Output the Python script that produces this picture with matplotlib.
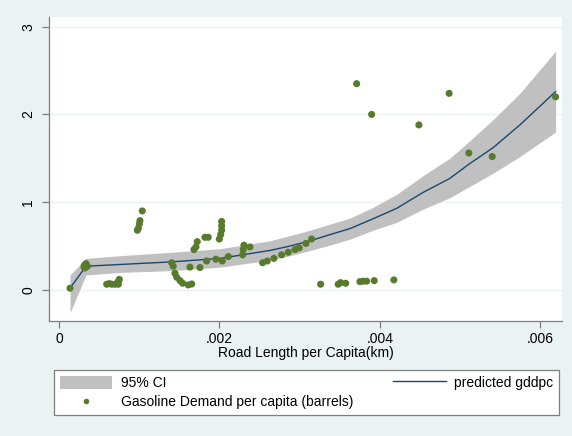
import matplotlib
matplotlib.use("Agg")
import matplotlib.pyplot as plt
from matplotlib.patches import Patch
from matplotlib.lines import Line2D

plt.rcParams['font.family'] = ['Liberation Sans', 'DejaVu Sans']

# observed data: road length per capita (km) vs gasoline demand per capita (barrels)
road_km = [0.000137,
           0.000315, 0.000336, 0.000353, 0.000324, 0.000312,
           0.000594, 0.000627, 0.000657, 0.000698, 0.000739, 0.000739, 0.000751,
           0.001038, 0.001009, 0.001001, 0.000988, 0.000976,
           0.001404, 0.001424, 0.001445, 0.001467, 0.001508, 0.001541, 0.001611, 0.001654,
           0.001632, 0.001757, 0.001840, 0.001956, 0.002035, 0.002110,
           0.001682, 0.001707, 0.001723, 0.001819, 0.001860,
           0.001998, 0.002015, 0.002027, 0.002027, 0.002027,
           0.002289, 0.002297, 0.002305, 0.002380,
           0.002538, 0.002596, 0.002679, 0.002775, 0.002857, 0.002941, 0.002994, 0.003078, 0.003149,
           0.003261, 0.003480, 0.003510, 0.003573, 0.003751, 0.003792, 0.003834, 0.003929, 0.004174,
           0.003710, 0.003897, 0.004486, 0.004863, 0.005109, 0.005400, 0.006190]
gas_bbl = [0.02,
           0.28, 0.30, 0.27, 0.25, 0.26,
           0.065, 0.072, 0.065, 0.065, 0.065, 0.095, 0.12,
           0.90, 0.79, 0.75, 0.70, 0.68,
           0.31, 0.27, 0.19, 0.145, 0.106, 0.076, 0.057, 0.068,
           0.26, 0.255, 0.33, 0.35, 0.33, 0.38,
           0.46, 0.49, 0.55, 0.60, 0.60,
           0.58, 0.63, 0.68, 0.73, 0.78,
           0.40, 0.46, 0.51, 0.49,
           0.31, 0.33, 0.36, 0.40, 0.43, 0.46, 0.48, 0.53, 0.58,
           0.065, 0.065, 0.083, 0.076, 0.095, 0.10, 0.10, 0.106, 0.114,
           2.35, 2.00, 1.88, 2.24, 1.56, 1.52, 2.20]

# predicted values and 95% CI
fit_x = [0.000137, 0.000336, 0.00076, 0.00141, 0.00201, 0.00263, 0.00288,
         0.00313, 0.003377, 0.00363, 0.003913, 0.00421, 0.004536, 0.00487,
         0.005121, 0.00541, 0.005745, 0.00619]
fit_y = [0.02, 0.27, 0.29, 0.32, 0.36, 0.45, 0.50,
         0.56, 0.63, 0.70, 0.81, 0.93, 1.11, 1.27,
         1.44, 1.62, 1.88, 2.26]
ci_lo = [-0.26, 0.17, 0.20, 0.22, 0.26, 0.34, 0.39,
         0.45, 0.51, 0.58, 0.68, 0.77, 0.92, 1.05,
         1.18, 1.33, 1.52, 1.80]
ci_hi = [0.17, 0.36, 0.39, 0.43, 0.47, 0.56, 0.62,
         0.68, 0.75, 0.82, 0.94, 1.09, 1.30, 1.50,
         1.70, 1.94, 2.24, 2.72]

x_ticks = [0, 0.002, 0.004, 0.006]
x_ticklabels = ['0', '.002', '.004', '.006']
y_ticks = [0, 1, 2, 3]
y_ticklabels = ['0', '1', '2', '3']

BG = '#EAF2F3'
GREEN = '#577A2C'
NAVY = '#1A476F'
CI = '#C0C0C0'

fig = plt.figure(figsize=(5.72, 4.36), dpi=100, facecolor=BG)
ax = fig.add_axes([49/572, 1-321/436, (562-49)/572, (321-17)/436])
ax.set_facecolor('white')

ax.fill_between(fit_x, ci_lo, ci_hi, color=CI, lw=0, zorder=2)
ax.plot(fit_x, fit_y, color=NAVY, lw=1.0, zorder=3)
ax.scatter(road_km, gas_bbl, s=26, color=GREEN, edgecolors='none', zorder=4)

ax.set_xlim(-0.000125, 0.00627)
ax.set_ylim(-0.354, 3.11)
ax.set_xticks(x_ticks)
ax.set_xticklabels(x_ticklabels)
ax.set_yticks(y_ticks)
ax.set_yticklabels(y_ticklabels, rotation=90, va='center')
ax.grid(axis='y', color=BG, lw=1.0, zorder=1)
ax.set_axisbelow(True)

for s in ['top', 'right']:
    ax.spines[s].set_visible(False)
for s in ['left', 'bottom']:
    ax.spines[s].set_color('#7F7F7F')
    ax.spines[s].set_linewidth(0.9)
ax.tick_params(axis='both', colors='#7F7F7F', labelcolor='black', labelsize=10,
               length=5, width=0.9)
ax.tick_params(axis='x', pad=3)
ax.tick_params(axis='y', pad=5)
ax.set_xlabel('Road Length per Capita(km)', fontsize=10, labelpad=0)

handles = [Patch(facecolor=CI, edgecolor='none', label='95% CI'),
           Line2D([], [], marker='o', ls='none', color=GREEN, markersize=4,
                  markeredgewidth=0, label='Gasoline Demand per capita (barrels)'),
           Line2D([], [], color=NAVY, lw=1.0, label='predicted gddpc')]
leg = fig.legend(handles=handles, ncol=2, loc='upper left',
                 bbox_to_anchor=(54/572, 1-420/436, 505/572, 50/436),
                 mode='expand', fontsize=10, frameon=True, fancybox=False,
                 edgecolor='#7F7F7F', facecolor='white', framealpha=1,
                 handlelength=3.8, handleheight=1.1, handletextpad=0.6,
                 borderaxespad=0, borderpad=0.4, labelspacing=0.35)
leg.get_frame().set_linewidth(0.9)

fig.savefig('out.png', dpi=100, facecolor=BG)
